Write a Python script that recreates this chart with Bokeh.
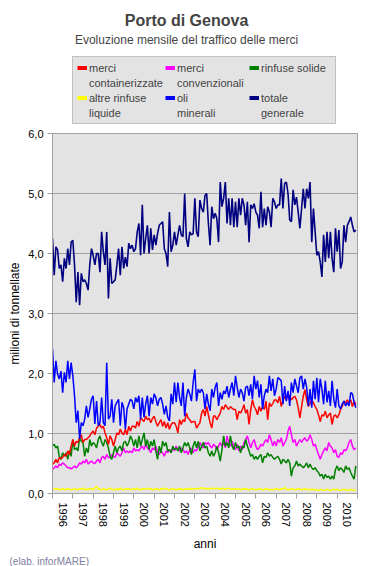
import math
from bokeh.plotting import figure
from bokeh.layouts import column
from bokeh.models import (FixedTicker, Legend, LegendItem, Label, Range1d, Title,
                          ColumnDataSource, CDSView, IndexFilter)
from bokeh.embed import file_html
from bokeh.resources import INLINE

# ---------------- data ----------------
years = list(range(1996, 2011))
year_labels = [str(y) for y in years]
y_ticks = [0, 1, 2, 3, 4, 5, 6]
y_tick_labels = ["0,0", "1,0", "2,0", "3,0", "4,0", "5,0", "6,0"]

title_text = "Porto di Genova"
subtitle_text = "Evoluzione mensile del traffico delle merci"
y_title = "milioni di tonnellate"
x_title = "anni"
credit_text = "(elab. inforMARE)"

# monthly values, million tonnes, Jan 1996 .. Dec 2010
containerizzate = [
    0.49, 0.51, 0.57, 0.51, 0.60, 0.58, 0.60, 0.65, 0.62, 0.71, 0.65, 0.79,
    0.90, 0.79, 0.87, 0.85, 0.93, 0.98, 0.85, 0.90, 0.90, 0.93, 0.96, 1.01,
    1.04, 0.98, 1.09, 1.12, 1.15, 1.09, 1.12, 1.01, 0.93, 0.82, 0.96, 0.90,
    0.79, 0.90, 1.01, 0.98, 1.07, 1.01, 0.98, 1.07, 0.98, 1.12, 1.04, 1.12,
    1.12, 1.09, 1.20, 1.12, 1.26, 1.23, 1.20, 1.29, 1.23, 1.26, 1.18, 1.25,
    1.29, 1.20, 1.12, 1.18, 1.23, 1.12, 1.20, 1.09, 1.18, 1.07, 1.15, 1.18,
    1.18, 1.12, 1.01, 1.23, 1.15, 1.23, 1.20, 1.34, 1.26, 1.23, 1.18, 1.20,
    1.20, 1.09, 1.14, 1.18, 1.34, 1.40, 1.29, 1.45, 1.31, 1.18, 1.09, 1.29,
    1.29, 1.23, 1.29, 1.34, 1.45, 1.40, 1.48, 1.44, 1.40, 1.45, 1.42, 1.40,
    1.40, 1.23, 1.37, 1.34, 1.40, 1.48, 1.34, 1.40, 1.15, 1.40, 1.56, 1.45,
    1.40, 1.31, 1.45, 1.37, 1.45, 1.40, 1.54, 1.23, 1.51, 1.45, 1.50, 1.56,
    1.56, 1.51, 1.62, 1.45, 1.56, 1.62, 1.56, 1.67, 1.60, 1.56, 1.60, 1.62,
    1.56, 1.43, 1.26, 1.45, 1.62, 1.73, 1.56, 1.45, 1.50, 1.56, 1.51, 1.45,
    1.40, 1.31, 1.20, 1.31, 1.29, 1.37, 1.26, 1.31, 1.34, 1.15, 1.29, 1.31,
    1.26, 1.31, 1.40, 1.45, 1.54, 1.51, 1.56, 1.51, 1.56, 1.45, 1.54, 1.48,
]
convenzionali = [
    0.40, 0.43, 0.46, 0.43, 0.49, 0.47, 0.51, 0.49, 0.46, 0.43, 0.43, 0.41,
    0.43, 0.46, 0.43, 0.46, 0.51, 0.49, 0.54, 0.51, 0.57, 0.49, 0.52, 0.54,
    0.51, 0.50, 0.54, 0.57, 0.51, 0.60, 0.62, 0.57, 0.65, 0.60, 0.60, 0.65,
    0.62, 0.60, 0.68, 0.65, 0.62, 0.68, 0.76, 0.68, 0.71, 0.68, 0.71, 0.68,
    0.76, 0.71, 0.73, 0.71, 0.76, 0.79, 0.73, 0.82, 0.76, 0.73, 0.68, 0.76,
    0.73, 0.79, 0.68, 0.65, 0.71, 0.68, 0.62, 0.71, 0.68, 0.73, 0.68, 0.76,
    0.71, 0.79, 0.73, 0.71, 0.76, 0.73, 0.68, 0.71, 0.65, 0.73, 0.76, 0.68,
    0.73, 0.71, 0.79, 0.85, 0.79, 0.76, 0.85, 0.82, 0.85, 0.79, 0.76, 0.82,
    0.79, 0.73, 0.79, 0.85, 0.79, 0.85, 0.76, 0.96, 0.85, 0.79, 0.87, 0.79,
    0.73, 0.82, 0.71, 0.79, 0.73, 0.85, 0.90, 0.96, 0.85, 0.76, 0.85, 0.90,
    0.79, 0.73, 0.76, 0.82, 0.79, 0.85, 0.90, 0.85, 0.98, 0.90, 0.79, 0.87,
    0.79, 0.90, 0.85, 0.93, 0.79, 0.85, 0.90, 1.04, 1.12, 0.98, 0.85, 0.90,
    0.79, 0.85, 0.90, 0.85, 0.90, 0.93, 0.87, 0.90, 0.98, 0.90, 0.79, 0.82,
    0.73, 0.65, 0.57, 0.65, 0.71, 0.76, 0.71, 0.85, 0.79, 0.76, 0.68, 0.73,
    0.62, 0.60, 0.68, 0.65, 0.73, 0.71, 0.76, 0.85, 0.90, 0.79, 0.73, 0.76,
]
rinfuse_solide = [
    0.79, 0.82, 0.76, 0.79, 0.62, 0.57, 0.68, 0.62, 0.68, 0.57, 0.71, 0.62,
    0.90, 0.73, 0.76, 0.71, 0.93, 0.87, 0.85, 0.62, 0.76, 0.68, 0.90, 0.79,
    0.85, 0.82, 0.76, 0.90, 0.96, 0.85, 0.79, 0.90, 0.85, 0.76, 0.62, 0.57,
    0.68, 0.79, 0.68, 0.76, 0.79, 0.71, 0.85, 0.87, 0.79, 0.85, 0.96, 0.90,
    0.79, 0.90, 0.76, 0.96, 0.79, 0.90, 1.01, 0.79, 0.90, 0.73, 0.87, 0.79,
    0.90, 0.71, 0.57, 0.79, 0.68, 0.87, 0.79, 0.85, 0.71, 0.73, 0.68, 0.79,
    0.73, 0.76, 0.71, 0.79, 0.68, 0.76, 0.85, 0.79, 0.85, 0.76, 0.65, 0.79,
    0.87, 0.76, 0.87, 0.71, 0.79, 0.85, 0.76, 0.79, 0.68, 0.62, 0.71, 0.62,
    0.68, 0.79, 0.68, 0.54, 0.73, 0.96, 0.79, 0.85, 0.76, 0.96, 0.79, 0.73,
    0.85, 0.76, 0.79, 0.68, 0.79, 0.76, 0.90, 0.79, 0.71, 0.62, 0.65, 0.57,
    0.62, 0.57, 0.62, 0.65, 0.51, 0.62, 0.60, 0.68, 0.62, 0.65, 0.60, 0.57,
    0.60, 0.62, 0.57, 0.49, 0.57, 0.54, 0.51, 0.57, 0.51, 0.29, 0.43, 0.46,
    0.54, 0.46, 0.49, 0.46, 0.43, 0.46, 0.51, 0.43, 0.49, 0.43, 0.40, 0.43,
    0.38, 0.35, 0.29, 0.32, 0.24, 0.32, 0.27, 0.29, 0.24, 0.29, 0.24, 0.40,
    0.46, 0.38, 0.43, 0.40, 0.35, 0.46, 0.40, 0.43, 0.35, 0.29, 0.24, 0.46,
]
altre_rinfuse_liquide = [
    0.09, 0.08, 0.07, 0.08, 0.06, 0.07, 0.08, 0.07, 0.06, 0.08, 0.07, 0.06,
    0.07, 0.08, 0.06, 0.07, 0.08, 0.07, 0.09, 0.07, 0.06, 0.08, 0.07, 0.08,
    0.07, 0.09, 0.12, 0.08, 0.07, 0.06, 0.08, 0.07, 0.06, 0.08, 0.09, 0.07,
    0.06, 0.07, 0.08, 0.06, 0.09, 0.07, 0.06, 0.08, 0.07, 0.08, 0.06, 0.07,
    0.08, 0.07, 0.09, 0.07, 0.06, 0.08, 0.07, 0.08, 0.09, 0.07, 0.08, 0.07,
    0.06, 0.08, 0.07, 0.06, 0.08, 0.07, 0.09, 0.08, 0.07, 0.06, 0.07, 0.08,
    0.07, 0.06, 0.08, 0.07, 0.08, 0.06, 0.07, 0.08, 0.07, 0.09, 0.07, 0.08,
    0.08, 0.07, 0.09, 0.08, 0.10, 0.08, 0.09, 0.08, 0.07, 0.09, 0.08, 0.09,
    0.08, 0.09, 0.08, 0.07, 0.09, 0.08, 0.07, 0.08, 0.09, 0.08, 0.07, 0.08,
    0.07, 0.08, 0.07, 0.06, 0.08, 0.07, 0.08, 0.07, 0.06, 0.07, 0.08, 0.07,
    0.06, 0.07, 0.08, 0.07, 0.06, 0.07, 0.08, 0.07, 0.06, 0.07, 0.06, 0.07,
    0.08, 0.06, 0.07, 0.08, 0.07, 0.10, 0.07, 0.06, 0.07, 0.08, 0.07, 0.06,
    0.07, 0.08, 0.07, 0.06, 0.07, 0.08, 0.06, 0.07, 0.06, 0.07, 0.06, 0.07,
    0.06, 0.05, 0.07, 0.06, 0.05, 0.06, 0.07, 0.06, 0.05, 0.06, 0.07, 0.06,
    0.07, 0.06, 0.05, 0.06, 0.07, 0.06, 0.05, 0.06, 0.07, 0.05, 0.06, 0.06,
]
oli_minerali = [
    2.41, 1.85, 2.21, 1.99, 1.91, 2.04, 1.68, 2.02, 1.85, 2.21, 1.91, 2.18,
    1.96, 1.63, 1.18, 1.38, 0.91, 1.18, 1.13, 1.24, 1.46, 1.27, 1.41, 1.57,
    1.63, 1.16, 1.54, 1.13, 1.18, 1.60, 1.18, 1.13, 2.18, 1.24, 1.29, 1.57,
    1.18, 1.46, 1.52, 1.57, 1.13, 1.52, 1.43, 1.07, 1.41, 1.49, 1.57, 1.54,
    1.41, 1.60, 1.52, 1.63, 1.24, 1.60, 1.27, 1.49, 1.63, 1.29, 1.60, 1.49,
    1.66, 1.60, 1.46, 1.57, 1.60, 1.49, 1.32, 1.46, 1.27, 1.21, 1.66, 1.49,
    1.85, 1.52, 1.85, 1.60, 1.46, 1.85, 1.29, 1.60, 1.74, 1.66, 1.54, 1.85,
    2.07, 1.54, 1.74, 1.68, 1.74, 1.68, 1.41, 1.66, 1.49, 1.38, 1.74, 1.60,
    1.77, 1.85, 1.46, 1.68, 1.57, 1.71, 1.66, 1.79, 1.60, 1.74, 1.85, 1.63,
    1.96, 1.77, 1.60, 1.74, 1.68, 1.54, 1.77, 1.79, 1.63, 1.82, 1.57, 1.96,
    1.74, 1.88, 1.60, 1.82, 1.41, 1.63, 1.74, 1.68, 1.96, 1.71, 1.91, 1.63,
    1.74, 1.93, 1.91, 1.88, 1.49, 1.79, 1.54, 1.71, 1.46, 1.85, 1.68, 1.91,
    1.79, 1.68, 1.93, 1.96, 1.74, 1.91, 1.77, 1.46, 1.74, 1.43, 1.88, 1.57,
    1.93, 1.52, 1.91, 1.74, 1.49, 1.88, 1.52, 1.71, 1.46, 1.88, 1.57, 1.43,
    1.74, 1.46, 1.41, 1.49, 1.54, 1.46, 1.52, 1.46, 1.68, 1.66, 1.52, 1.43,
]
totale_generale = [
    4.25, 3.64, 4.11, 4.06, 3.75, 3.81, 3.53, 3.92, 3.75, 4.08, 3.81, 4.19,
    4.22, 3.81, 3.19, 3.69, 3.14, 3.67, 3.53, 3.56, 3.50, 3.39, 3.81, 4.08,
    3.97, 3.81, 4.00, 4.00, 3.69, 4.36, 4.03, 3.81, 4.36, 3.25, 3.92, 3.50,
    3.53, 3.56, 3.81, 4.08, 3.64, 4.11, 3.75, 3.94, 3.78, 4.17, 4.08, 4.14,
    4.03, 4.08, 4.36, 4.50, 3.97, 4.81, 4.00, 4.25, 4.47, 4.00, 4.42, 4.06,
    4.31, 4.14, 4.33, 4.47, 4.50, 4.53, 4.08, 4.00, 3.78, 4.69, 4.03, 4.14,
    4.36, 4.14, 4.31, 4.47, 4.31, 4.28, 5.00, 4.25, 4.11, 4.36, 4.31, 4.33,
    4.92, 4.36, 4.28, 4.89, 4.75, 4.69, 4.97, 5.00, 4.50, 4.14, 4.78, 4.58,
    4.67, 4.58, 4.19, 5.19, 4.78, 4.92, 5.19, 4.50, 4.92, 4.47, 4.92, 4.44,
    4.86, 4.44, 4.92, 4.64, 4.92, 4.81, 4.47, 4.86, 4.19, 4.81, 4.75, 4.83,
    4.69, 4.64, 4.42, 5.03, 4.44, 4.75, 4.47, 4.78, 4.69, 4.44, 4.92, 4.86,
    4.75, 4.81, 4.81, 5.25, 4.75, 5.17, 5.19, 5.00, 4.56, 4.53, 5.06, 4.81,
    4.94, 4.69, 4.42, 4.75, 5.08, 4.75, 5.08, 4.92, 5.19, 4.19, 4.75, 4.36,
    3.97, 4.03, 3.86, 3.61, 4.31, 3.86, 4.36, 3.92, 4.36, 3.92, 3.69, 4.42,
    4.03, 4.39, 3.75, 3.86, 4.47, 4.19, 4.47, 4.53, 4.61, 4.47, 4.36, 4.39,
]

n = len(totale_generale)
months = [years[0] + i / 12 for i in range(n)]

src = ColumnDataSource(dict(
    x=months,
    cont=containerizzate, conv=convenzionali, sol=rinfuse_solide,
    liq=altre_rinfuse_liquide, oli=oli_minerali, tot=totale_generale,
))

FONT = "Liberation Sans"
GRID = "#a0a0a0"
BG = "#e3e3e3"
W = 371
FL, FR = 52, 357          # frame left / right in page pixels

colors = dict(cont="#ff0000", conv="#ff00ff", sol="#008000",
              liq="#ffff00", oli="#0000ff", tot="#000080")

# ---------------- header: title, subtitle, legend (page pixels) ----------
head = figure(width=W, height=125, output_backend="svg", toolbar_location=None,
              x_range=Range1d(FL, FR), y_range=Range1d(125, 0),
              x_axis_type=None, y_axis_type=None,
              min_border_left=FL, min_border_right=W - FR,
              min_border_top=0, min_border_bottom=0,
              outline_line_color=None, background_fill_color="white",
              border_fill_color="white")
head.title.visible = False
head.grid.visible = False

head.add_layout(Label(x=186, y=20, text=title_text, text_font=FONT,
                      text_font_size="16px", text_font_style="bold",
                      text_align="center", text_baseline="middle"))
head.add_layout(Label(x=186, y=39, text=subtitle_text, text_font=FONT,
                      text_font_size="12px", text_align="center",
                      text_baseline="middle"))

# thick swatches for the legend: same series, a one-point view draws nothing
def legend_glyph(col, color, alpha=1.0):
    return head.line("x", col, source=src, color=color, line_width=4,
                     line_alpha=alpha, view=CDSView(filter=IndexFilter([0])))

g_cont = legend_glyph("cont", colors["cont"])
g_conv = legend_glyph("conv", colors["conv"])
g_sol = legend_glyph("sol", colors["sol"])
g_liq = legend_glyph("liq", colors["liq"])
g_oli = legend_glyph("oli", colors["oli"])
g_tot = legend_glyph("tot", colors["tot"])
blank = legend_glyph("tot", BG, alpha=0.0)

items = [
    LegendItem(label="merci", renderers=[g_cont]),
    LegendItem(label="merci", renderers=[g_conv]),
    LegendItem(label="rinfuse solide", renderers=[g_sol]),
    LegendItem(label="containerizzate", renderers=[blank]),
    LegendItem(label="convenzionali", renderers=[blank]),
    LegendItem(label=" ", renderers=[blank]),
    LegendItem(label="altre rinfuse", renderers=[g_liq]),
    LegendItem(label="oli", renderers=[g_oli]),
    LegendItem(label="totale", renderers=[g_tot]),
    LegendItem(label="liquide", renderers=[blank]),
    LegendItem(label="minerali", renderers=[blank]),
    LegendItem(label="generale", renderers=[blank]),
]
legend = Legend(items=items, orientation="horizontal", ncols=3,
                location=(72 - FL, 1), margin=0, padding=4, spacing=2,
                glyph_width=10, glyph_height=13, label_height=13,
                label_width=70, label_standoff=2,
                label_text_font=FONT, label_text_font_size="11px",
                background_fill_color=BG, background_fill_alpha=1.0,
                border_line_color=GRID, border_line_width=1)
head.add_layout(legend)

# ---------------- main chart: frame page y 133..494 ----------------------
fig = figure(width=W, height=441, output_backend="svg", toolbar_location=None,
             x_range=Range1d(years[0], years[-1] + 1), y_range=Range1d(0, 6),
             min_border_left=FL, min_border_right=W - FR, min_border_top=8,
             min_border_bottom=72,
             background_fill_color=BG, border_fill_color="white",
             outline_line_color=GRID)
fig.title.visible = False

fig.line("x", "liq", source=src, color=colors["liq"], line_width=1.5)
fig.line("x", "conv", source=src, color=colors["conv"], line_width=1.5)
fig.line("x", "sol", source=src, color=colors["sol"], line_width=1.5)
fig.line("x", "cont", source=src, color=colors["cont"], line_width=1.5)
fig.line("x", "oli", source=src, color=colors["oli"], line_width=1.5)
fig.line("x", "tot", source=src, color=colors["tot"], line_width=1.6)

fig.xgrid.visible = False
fig.ygrid.grid_line_color = GRID
fig.ygrid.ticker = FixedTicker(ticks=y_ticks)

xa = fig.xaxis[0]
xa.ticker = FixedTicker(ticks=[y + 0.5 for y in years],
                        minor_ticks=years + [years[-1] + 1])
xa.major_label_overrides = {y + 0.5: lab for y, lab in zip(years, year_labels)}
xa.major_label_orientation = -math.pi / 2
xa.major_tick_line_color = None
xa.major_tick_out = 5
xa.major_tick_in = 0
xa.minor_tick_line_color = GRID
xa.minor_tick_out = 5
xa.minor_tick_in = 0
xa.axis_line_color = GRID
xa.major_label_standoff = 4
xa.major_label_text_font = FONT
xa.major_label_text_font_size = "11px"
xa.major_label_text_color = "black"
xa.axis_label = x_title
xa.axis_label_text_font = FONT
xa.axis_label_text_font_size = "12px"
xa.axis_label_text_font_style = "normal"
xa.axis_label_text_color = "black"
xa.axis_label_standoff = 7

ya = fig.yaxis[0]
ya.ticker = FixedTicker(ticks=y_ticks)
ya.major_label_overrides = {t: lab for t, lab in zip(y_ticks, y_tick_labels)}
ya.major_tick_line_color = GRID
ya.major_tick_out = 5
ya.major_tick_in = 0
ya.minor_tick_line_color = None
ya.axis_line_color = GRID
ya.major_label_standoff = 4
ya.major_label_text_font = FONT
ya.major_label_text_font_size = "11px"
ya.major_label_text_color = "black"
ya.axis_label = y_title
ya.axis_label_text_font = FONT
ya.axis_label_text_font_size = "12px"
ya.axis_label_text_font_style = "normal"
ya.axis_label_text_color = "black"
ya.axis_label_standoff = 3

credit = Title(text=credit_text, align="left", offset=9 - FL, standoff=0,
               text_font=FONT, text_font_size="10px",
               text_font_style="normal", text_color="#8080a0")
fig.add_layout(credit, "below")

p = column(head, fig, spacing=0)
open("out.html", "w").write(file_html(p, INLINE))
